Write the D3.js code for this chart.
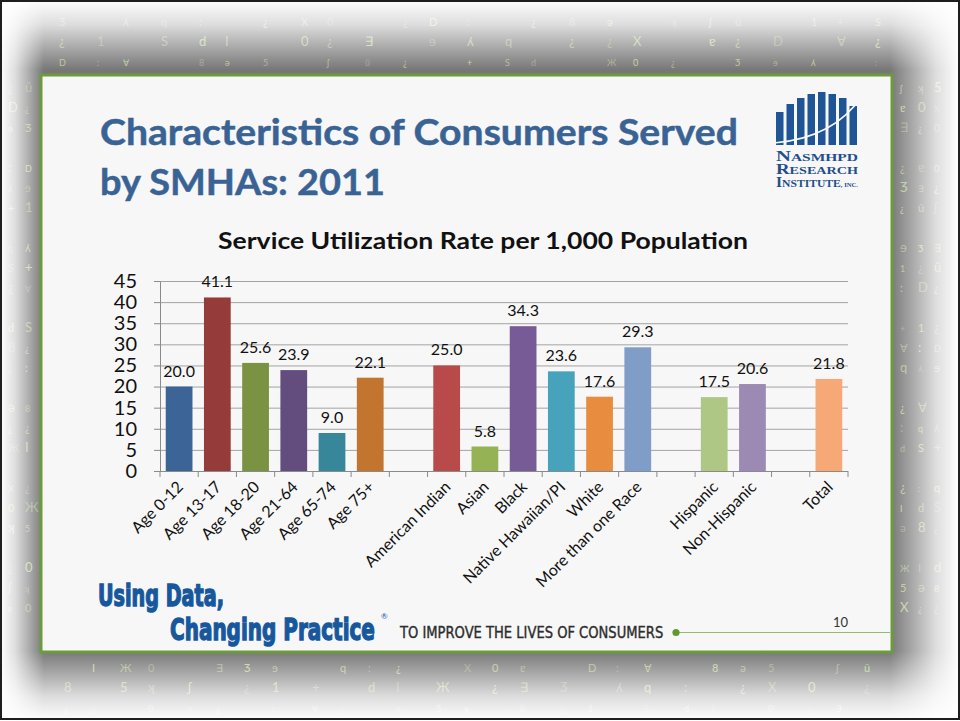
<!DOCTYPE html>
<html>
<head>
<meta charset="utf-8">
<script src="https://cdn.jsdelivr.net/npm/d3@7/dist/d3.min.js"></script>
<style>
  html, body { margin: 0; padding: 0; background: #fff; }
  svg { display: block; }
  text { font-family: Lato, "Open Sans", sans-serif; }
  .narrow { font-family: "Liberation Sans Narrow", "DejaVu Sans Condensed", "Liberation Sans", sans-serif; }
  .serif { font-family: "Liberation Serif", "DejaVu Serif", serif; font-weight: bold; }
</style>
</head>
<body>
<svg id="slide" width="960" height="721"></svg>
<script>
// chart data
const categories = ['Age 0-12', 'Age 13-17', 'Age 18-20', 'Age 21-64', 'Age 65-74', 'Age 75+', 'gap1',
  'American Indian', 'Asian', 'Black', 'Native Hawaiian/PI', 'White', 'More than one Race', 'gap2',
  'Hispanic', 'Non-Hispanic', 'gap3', 'Total']
const values = [20.0, 41.1, 25.6, 23.9, 9.0, 22.1, null,
  25.0, 5.8, 34.3, 23.6, 17.6, 29.3, null,
  17.5, 20.6, null, 21.8]
const barColors = ['#3d6496', '#953b3a', '#7a9342', '#634d7e', '#37869a', '#c2752f', null,
  '#b84b4a', '#95b254', '#775b97', '#47a2bb', '#e88d40', '#7f9dc7', null,
  '#aec784', '#9c8ab4', null, '#f6a976']
const yTicks = [0, 5, 10, 15, 20, 25, 30, 35, 40, 45]

const chartTitle = 'Service Utilization Rate per 1,000 Population'
const slideTitle = ['Characteristics of Consumers Served', 'by SMHAs: 2011']

const svg = d3.select('#slide')
const W = 960
const H = 721

// stretch/squeeze a text node to a target width
function fitWidth (sel, w) {
  const n = sel.node()
  const len = n.getComputedTextLength()
  if (Math.abs(len - w) > 1) sel.attr('textLength', w).attr('lengthAdjust', 'spacingAndGlyphs')
  return sel
}

// condensed look: shrink font to the wanted width, then stretch it back up vertically
function condensed (x, y, size, w, str, color, weight, stroke) {
  const g = svg.append('g')
  const t = g.append('text').attr('class', 'narrow').style('font-weight', weight)
    .attr('font-size', size).text(str)
  const fs = size * (w - stroke) / t.node().getComputedTextLength()
  t.attr('font-size', fs).attr('fill', color)
  if (stroke) t.attr('stroke', color).attr('stroke-width', stroke)
  g.attr('transform', `translate(${x},${y}) scale(1,${size / fs})`)
  return t
}

/* ---------- background ---------- */
const defs = svg.append('defs')
function edgeGrad (id, x1, y1, x2, y2) {
  const g = defs.append('linearGradient').attr('id', id)
    .attr('x1', x1).attr('y1', y1).attr('x2', x2).attr('y2', y2)
  g.append('stop').attr('offset', '0%').attr('stop-color', '#fff').attr('stop-opacity', 1)
  g.append('stop').attr('offset', '35%').attr('stop-color', '#fff').attr('stop-opacity', 0.75)
  g.append('stop').attr('offset', '100%').attr('stop-color', '#fff').attr('stop-opacity', 0)
}
edgeGrad('gTop', 0, 0, 0, 1)
edgeGrad('gBottom', 0, 1, 0, 0)
edgeGrad('gLeft', 0, 0, 1, 0)
edgeGrad('gRight', 1, 0, 0, 0)

svg.append('rect').attr('width', W).attr('height', H).attr('fill', '#777')

// matrix style glyph columns (decoration only)
const glyphs = Array.from('¿∀əʃ1d0Ʒq¿ɐ:8ʞ¿SЖ∃ʎ¿0D¿5ŭ+I¿ɘ:X')
const glyphLayer = svg.append('g').attr('fill', '#d3eaa6').attr('font-family', 'DejaVu Sans')
let gi = 0
function glyphColumn (x, y0, y1, step, size) {
  for (let y = y0; y <= y1; y += step) {
    gi += 1
    if (gi % 4 === 0) continue
    glyphLayer.append('text')
      .attr('x', x).attr('y', y)
      .attr('font-size', size + (gi % 3) * 2)
      .attr('opacity', 0.35 + (gi % 5) * 0.1)
      .text(glyphs[(gi * 7) % glyphs.length])
  }
}
for (let x = 55; x < 880; x += 34) glyphColumn(x + (x % 3) * 4, 26, 70, 20, 9)
for (let x = 55; x < 880; x += 31) glyphColumn(x + (x % 4) * 3, 672, 712, 20, 9)
;[8, 25].forEach(x => glyphColumn(x, 92, 650, 20, 9))
;[900, 918, 934].forEach(x => glyphColumn(x, 92, 650, 20, 9))

svg.append('rect').attr('width', W).attr('height', 70).attr('fill', 'url(#gTop)')
svg.append('rect').attr('y', H - 70).attr('width', W).attr('height', 70).attr('fill', 'url(#gBottom)')
svg.append('rect').attr('width', 44).attr('height', H).attr('fill', 'url(#gLeft)')
svg.append('rect').attr('x', W - 70).attr('width', 70).attr('height', H).attr('fill', 'url(#gRight)')

svg.append('rect').attr('x', 1).attr('y', 1).attr('width', W - 2).attr('height', H - 3)
  .attr('fill', 'none').attr('stroke', '#1e1e1e').attr('stroke-width', 2)

/* ---------- slide panel ---------- */
svg.append('rect')
  .attr('x', 41).attr('y', 75).attr('width', 851).attr('height', 577)
  .attr('fill', '#f7f7f7').attr('stroke', '#6c9b3b').attr('stroke-width', 3)

const t1 = svg.append('text').attr('x', 100).attr('y', 145)
  .attr('font-size', 37).attr('font-weight', 'bold').attr('fill', '#3a6395')
  .attr('stroke', '#3a6395').attr('stroke-width', 0.5).text(slideTitle[0])
fitWidth(t1, 638)
const t2 = svg.append('text').attr('x', 100).attr('y', 195)
  .attr('font-size', 37).attr('font-weight', 'bold').attr('fill', '#3a6395')
  .attr('stroke', '#3a6395').attr('stroke-width', 0.5).text(slideTitle[1])
fitWidth(t2, 285)

/* ---------- logo ---------- */
const logoBarTops = [112, 104, 98, 94, 92, 94, 98, 106]
const logo = svg.append('g')
logo.selectAll('rect').data(logoBarTops).join('rect')
  .attr('x', (d, i) => 776 + i * 10.5).attr('y', d => d)
  .attr('width', 7.5).attr('height', d => 145 - d)
  .attr('fill', '#1f5496')
logo.append('path').attr('d', 'M774,143 Q834,138 862,96')
  .attr('fill', 'none').attr('stroke', '#f7f7f7').attr('stroke-width', 1.6)
const logoLines = [['N', 'ASMHPD', 161], ['R', 'ESEARCH', 174], ['I', 'NSTITUTE', 187]]
logoLines.forEach(([first, rest, y]) => {
  const lt = logo.append('text').attr('class', 'serif').attr('x', 776).attr('y', y).attr('fill', '#1f4e8c')
  lt.append('tspan').attr('font-size', 14).text(first)
  lt.append('tspan').attr('font-size', 10.5).text(rest)
  if (first === 'I') lt.append('tspan').attr('font-size', 6).text(', INC.')
  fitWidth(lt, 82)
})

/* ---------- chart ---------- */
const plot = { left: 160, right: 848, top: 281, bottom: 471 }

const x = d3.scaleBand()
  .domain(categories)
  .range([plot.left, plot.right])
  .paddingInner(0.3)
  .paddingOuter(0.15)

const y = d3.scaleLinear()
  .domain([0, 45])
  .range([plot.bottom, plot.top])

const ct = svg.append('text').attr('x', 483).attr('y', 249)
  .attr('text-anchor', 'middle').attr('font-size', 22).attr('font-weight', 'bold')
  .attr('fill', '#111').text(chartTitle)
fitWidth(ct, 530)

// gridlines
svg.append('g')
  .attr('transform', `translate(${plot.left},0)`)
  .call(d3.axisRight(y).tickValues(yTicks).tickSize(plot.right - plot.left).tickFormat(''))
  .call(g => g.select('.domain').remove())
  .call(g => g.selectAll('.tick line').attr('stroke', '#a3a3a3'))

// y axis
svg.append('g')
  .attr('transform', `translate(${plot.left},0)`)
  .call(d3.axisLeft(y).tickValues(yTicks).tickSize(6).tickPadding(17).tickSizeOuter(0))
  .call(g => g.select('.domain').attr('stroke', '#8a8a8a'))
  .call(g => g.selectAll('.tick line').attr('stroke', '#8a8a8a'))
  .call(g => g.selectAll('.tick text')
    .attr('font-size', 20).attr('font-family', 'Lato, sans-serif').attr('fill', '#111'))

// bars
const rows = categories.map((c, i) => ({ cat: c, value: values[i], color: barColors[i] }))
  .filter(d => d.value != null)

svg.append('g').selectAll('rect').data(rows).join('rect')
  .attr('x', d => x(d.cat))
  .attr('y', d => y(d.value))
  .attr('width', x.bandwidth())
  .attr('height', d => y(0) - y(d.value))
  .attr('fill', d => d.color)

// value labels
svg.append('g').selectAll('text').data(rows).join('text')
  .attr('x', d => x(d.cat) + x.bandwidth() / 2)
  .attr('y', d => y(d.value) - 10)
  .attr('text-anchor', 'middle')
  .attr('font-size', 16)
  .attr('fill', '#111')
  .text(d => d.value.toFixed(1))

// x axis line and slot boundary ticks
const step = x.step()
const xAxis = svg.append('g').attr('stroke', '#8a8a8a')
xAxis.append('line')
  .attr('x1', plot.left).attr('x2', plot.right)
  .attr('y1', plot.bottom + 0.5).attr('y2', plot.bottom + 0.5)
xAxis.selectAll('line.tk').data(d3.range(categories.length + 1)).join('line')
  .attr('class', 'tk')
  .attr('x1', i => plot.left + i * step).attr('x2', i => plot.left + i * step)
  .attr('y1', plot.bottom).attr('y2', plot.bottom + 6)

// rotated category labels
svg.append('g').selectAll('text')
  .data(categories.filter(c => !c.startsWith('gap')))
  .join('text')
  .attr('transform', c => `translate(${x(c) + x.bandwidth() / 2 + 5},${plot.bottom + 17}) rotate(-45)`)
  .attr('text-anchor', 'end')
  .attr('font-size', 16)
  .attr('fill', '#111')
  .text(c => c)

/* ---------- footer ---------- */
condensed(98, 606, 30, 127, 'Using Data,', '#17589d', 'bold', 1)
condensed(170, 640, 30, 206, 'Changing Practice', '#17589d', 'bold', 1)
svg.append('text').attr('x', 381).attr('y', 619).attr('font-size', 8).attr('fill', '#17589d').text('®')
condensed(400, 638, 15, 264, 'TO IMPROVE THE LIVES OF CONSUMERS', '#2d2d2d', 'normal', 0.35)
svg.append('line').attr('x1', 676).attr('x2', 890).attr('y1', 632.5).attr('y2', 632.5)
  .attr('stroke', '#93bb68').attr('stroke-width', 1.2)
svg.append('circle').attr('cx', 676).attr('cy', 632.5).attr('r', 3.6).attr('fill', '#5f9a31')
svg.append('text').attr('x', 848).attr('y', 627).attr('text-anchor', 'end')
  .attr('font-size', 13).attr('fill', '#333').text('10')
</script>
</body>
</html>
